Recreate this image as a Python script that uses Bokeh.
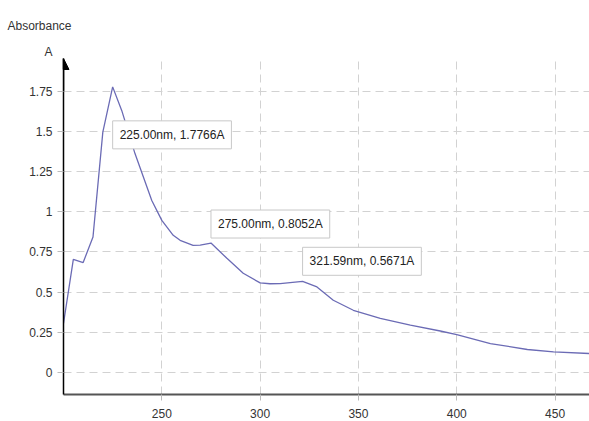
from bokeh.plotting import figure
from bokeh.models import Range1d, FixedTicker, Label, Arrow, NormalHead, Title
from bokeh.embed import file_html
from bokeh.resources import INLINE

# ---- data ----
wavelength = [200, 205, 210, 215, 220, 225, 229.6, 236.4, 244.9, 250, 255.8, 259.3,
              265.9, 269.5, 275, 283.1, 291.4, 300, 305, 310.2, 321.59, 328.9, 337.2,
              347.4, 361.1, 376.4, 391.6, 400, 417.1, 435.9, 449.2, 467.5]
absorbance = [0.305, 0.704, 0.684, 0.843, 1.495, 1.7766, 1.63, 1.36, 1.07, 0.946, 0.853, 0.822,
              0.791, 0.792, 0.8052, 0.71, 0.617, 0.557, 0.552, 0.553, 0.5671, 0.532, 0.449,
              0.387, 0.337, 0.294, 0.258, 0.235, 0.18, 0.143, 0.128, 0.118]

peak_nm = [225.00, 275.00, 321.59]
peak_abs = [1.7766, 0.8052, 0.5671]

x_ticks = [250, 300, 350, 400, 450]
y_ticks = [0, 0.25, 0.5, 0.75, 1, 1.25, 1.5, 1.75]
y_tick_labels = ["0", "0.25", "0.5", "0.75", "1", "1.25", "1.5", "1.75"]

FONT = "Liberation Sans"
TXT = "#333333"

p = figure(width=589, height=421, output_backend="svg", toolbar_location=None,
           x_range=Range1d(200, 467.5), y_range=Range1d(-0.137, 1.953),
           min_border_left=63, min_border_right=0, min_border_top=58, min_border_bottom=27)
p.outline_line_color = None
p.background_fill_color = "white"
p.border_fill_color = "white"

p.line(wavelength, absorbance, line_color="#6b6bb5", line_width=1.3)

# axes
p.xaxis.ticker = FixedTicker(ticks=x_ticks)
p.yaxis.ticker = FixedTicker(ticks=y_ticks)
p.yaxis.major_label_overrides = {t: l for t, l in zip(y_ticks, y_tick_labels)}

for ax in (p.xaxis[0], p.yaxis[0]):
    ax.major_tick_line_color = "#bbbbbb"
    ax.major_tick_in = 0
    ax.major_tick_out = 6
    ax.minor_tick_line_color = None
    ax.major_label_text_font = FONT
    ax.major_label_text_font_size = "12px"
    ax.major_label_text_color = TXT

p.yaxis.axis_line_color = "black"
p.yaxis.axis_line_width = 1.5
p.yaxis.major_label_standoff = 5
p.xaxis.axis_line_color = "#555555"
p.xaxis.axis_line_width = 2
p.xaxis.major_label_standoff = 8

# grid
for g in (p.xgrid[0], p.ygrid[0]):
    g.grid_line_color = "#d2d2d2"
    g.grid_line_dash = "8 5"
    g.grid_line_width = 1

# arrow head at the top of the y axis
p.add_layout(Arrow(end=NormalHead(size=11, fill_color="black", line_color="black"),
                   x_start=p.x_range.start, y_start=p.y_range.end - 0.2,
                   x_end=p.x_range.start, y_end=p.y_range.end,
                   line_color="black", line_width=1.5))

# peak annotations
label_dy = [-34, 33, 34]
for nm, a, dy in zip(peak_nm, peak_abs, label_dy):
    p.add_layout(Label(x=nm, y=a, y_offset=dy, anchor="top_left",
                       text=f"{nm:.2f}nm, {a:.4f}A",
                       text_font=FONT, text_font_size="12px", text_color="#222222",
                       background_fill_color="white", border_line_color="#c8c8c8",
                       border_line_width=1, padding=7))

# texts above the plot
p.add_layout(Title(text="A", align="left", offset=-19, standoff=0,
                   text_font=FONT, text_font_size="12px", text_font_style="normal",
                   text_color=TXT), "above")
p.add_layout(Title(text="Absorbance", align="left", offset=-56, standoff=20,
                   text_font=FONT, text_font_size="12px", text_font_style="normal",
                   text_color=TXT), "above")

open("out.html", "w").write(file_html(p, INLINE))
